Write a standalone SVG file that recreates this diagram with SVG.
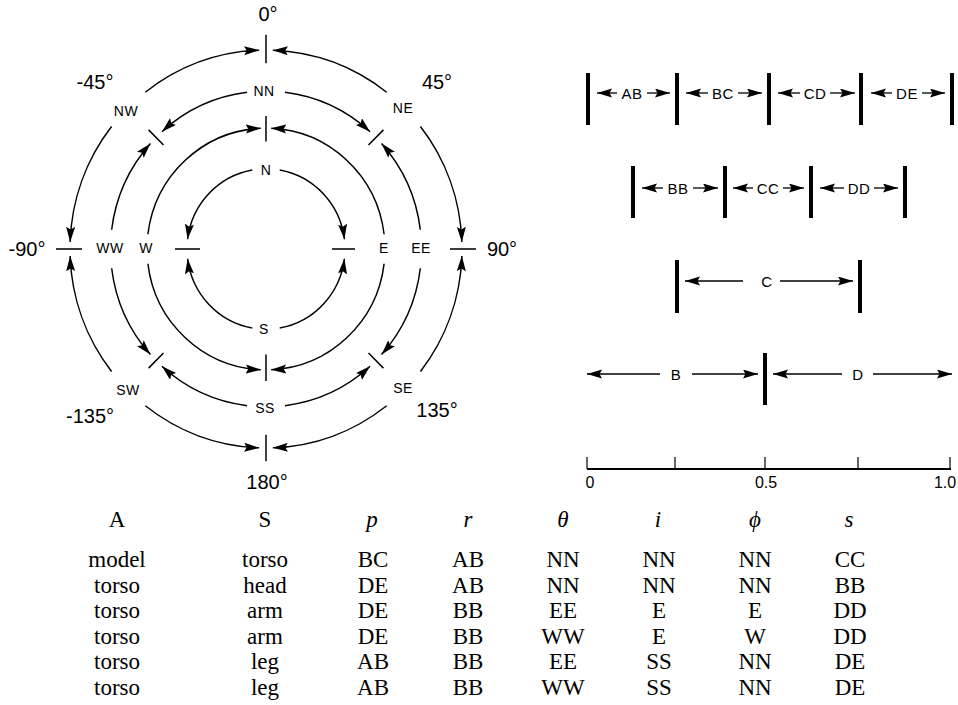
<svg xmlns="http://www.w3.org/2000/svg" width="958" height="705" viewBox="0 0 958 705">
<style>
  .bg{fill:#fff}
  .arc{fill:none;stroke:#000;stroke-width:1.5;marker-end:url(#ah)}
  .tk{stroke:#000;stroke-width:1.5;fill:none}
  .bar{stroke:#000;stroke-width:4;fill:none}
  .ar{stroke:#000;stroke-width:1.3;fill:none;marker-end:url(#ah)}
  .ax{stroke:#000;stroke-width:2;fill:none}
  .axt{stroke:#000;stroke-width:1.2;fill:none}
  .rl{font-family:"Liberation Sans",Arial,sans-serif;font-size:14px;fill:#000;text-anchor:middle;letter-spacing:0.5px}
  .dl{font-family:"Liberation Sans",Arial,sans-serif;font-size:20px;fill:#000;text-anchor:middle}
  .bl{font-family:"Liberation Sans",Arial,sans-serif;font-size:15px;fill:#000;text-anchor:middle;letter-spacing:0.5px}
  .al{font-family:"Liberation Sans",Arial,sans-serif;font-size:16px;fill:#000;text-anchor:middle}
  .tb{font-family:"Liberation Serif","DejaVu Serif",serif;font-size:23px;fill:#000;text-anchor:middle}
  .ti{font-style:italic}
</style>
<defs>
  <marker id="ah" markerUnits="userSpaceOnUse" markerWidth="16" markerHeight="10" refX="15" refY="4.5" orient="auto">
    <path d="M0,0 L15,4.5 L0,9 L2.5,4.5 z" fill="#000"/>
  </marker>
</defs>
<rect class="bg" x="0" y="0" width="958" height="705"/>

<!-- connectors of the circular diagram -->
<g id="connectors" transform="translate(266 249) scale(1 1.015)">
  <path class="arc" d="M-120.67,-154.45 A196,196 0 0 1 -6.84,-195.88"/>
  <path class="arc" d="M120.67,-154.45 A196,196 0 0 0 6.84,-195.88"/>
  <path class="arc" d="M154.45,-120.67 A196,196 0 0 1 195.88,-6.84"/>
  <path class="arc" d="M154.45,120.67 A196,196 0 0 0 195.88,6.84"/>
  <path class="arc" d="M120.67,154.45 A196,196 0 0 1 6.84,195.88"/>
  <path class="arc" d="M-120.67,154.45 A196,196 0 0 0 -6.84,195.88"/>
  <path class="arc" d="M-154.45,120.67 A196,196 0 0 1 -195.88,6.84"/>
  <path class="arc" d="M-154.45,-120.67 A196,196 0 0 0 -195.88,-6.84"/>

  <path class="arc" d="M18.95,-154.34 A155.5,155.5 0 0 1 104.05,-115.56"/>
  <path class="arc" d="M-18.95,-154.34 A155.5,155.5 0 0 0 -104.05,-115.56"/>
  <path class="arc" d="M154.34,-18.95 A155.5,155.5 0 0 0 115.56,-104.05"/>
  <path class="arc" d="M154.34,18.95 A155.5,155.5 0 0 1 115.56,104.05"/>
  <path class="arc" d="M18.95,154.34 A155.5,155.5 0 0 0 104.05,115.56"/>
  <path class="arc" d="M-18.95,154.34 A155.5,155.5 0 0 1 -104.05,115.56"/>
  <path class="arc" d="M-154.34,18.95 A155.5,155.5 0 0 0 -115.56,104.05"/>
  <path class="arc" d="M-154.34,-18.95 A155.5,155.5 0 0 1 -115.56,-104.05"/>

  <path class="arc" d="M-118.11,-14.51 A119,119 0 0 1 -5.19,-118.89"/>
  <path class="arc" d="M118.11,-14.51 A119,119 0 0 0 5.19,-118.89"/>
  <path class="arc" d="M118.11,14.51 A119,119 0 0 1 5.19,118.89"/>
  <path class="arc" d="M-118.11,14.51 A119,119 0 0 0 -5.19,118.89"/>

  <path class="arc" d="M-13.72,-77.80 A79,79 0 0 0 -78.41,-9.63"/>
  <path class="arc" d="M13.72,-77.80 A79,79 0 0 1 78.41,-9.63"/>
  <path class="arc" d="M13.72,77.80 A79,79 0 0 0 78.41,9.63"/>
  <path class="arc" d="M-13.72,77.80 A79,79 0 0 1 -78.41,9.63"/>
</g>

<!-- tick nodes -->
<g transform="translate(266 249) scale(1 1.015)">
  <g id="tick-0"><line class="tk" x1="0" y1="-183" x2="0" y2="-211"/></g>
  <g id="tick-90"><line class="tk" x1="184" y1="0" x2="210" y2="0"/></g>
  <g id="tick-180"><line class="tk" x1="0" y1="183" x2="0" y2="209"/></g>
  <g id="tick-m90"><line class="tk" x1="-184" y1="0" x2="-210" y2="0"/></g>
  <g id="tick-ne"><line class="tk" x1="102.5" y1="-102.5" x2="117.4" y2="-117.4"/></g>
  <g id="tick-se"><line class="tk" x1="102.5" y1="102.5" x2="117.4" y2="117.4"/></g>
  <g id="tick-sw"><line class="tk" x1="-102.5" y1="102.5" x2="-117.4" y2="117.4"/></g>
  <g id="tick-nw"><line class="tk" x1="-102.5" y1="-102.5" x2="-117.4" y2="-117.4"/></g>
  <g id="tick-n3"><line class="tk" x1="0" y1="-106" x2="0" y2="-131"/></g>
  <g id="tick-s3"><line class="tk" x1="0" y1="104" x2="0" y2="130"/></g>
  <g id="tick-w4"><line class="tk" x1="-66" y1="0" x2="-91" y2="0"/></g>
  <g id="tick-e4"><line class="tk" x1="66" y1="0" x2="89" y2="0"/></g>
</g>

<!-- ring label nodes -->
<g id="node-NW"><text class="rl" x="126" y="116">NW</text></g>
<g id="node-NE"><text class="rl" x="403" y="113">NE</text></g>
<g id="node-SW"><text class="rl" x="128" y="395">SW</text></g>
<g id="node-SE"><text class="rl" x="403" y="393">SE</text></g>
<g id="node-NN"><text class="rl" x="264" y="96">NN</text></g>
<g id="node-SS"><text class="rl" x="265" y="413">SS</text></g>
<g id="node-WW"><text class="rl" x="110" y="253">WW</text></g>
<g id="node-EE"><text class="rl" x="421" y="253">EE</text></g>
<g id="node-W"><text class="rl" x="146" y="253">W</text></g>
<g id="node-E"><text class="rl" x="384" y="253">E</text></g>
<g id="node-N"><text class="rl" x="266" y="175">N</text></g>
<g id="node-S"><text class="rl" x="264" y="334">S</text></g>

<!-- degree labels -->
<g id="deg-0"><text class="dl" x="268" y="21">0°</text></g>
<g id="deg-m45"><text class="dl" x="95" y="89">-45°</text></g>
<g id="deg-45"><text class="dl" x="437" y="89">45°</text></g>
<g id="deg-m90"><text class="dl" x="27" y="256">-90°</text></g>
<g id="deg-90"><text class="dl" x="502" y="256">90°</text></g>
<g id="deg-m135"><text class="dl" x="90" y="423">-135°</text></g>
<g id="deg-135"><text class="dl" x="437" y="417">135°</text></g>
<g id="deg-180"><text class="dl" x="267" y="489">180°</text></g>

<!-- interval bars -->
<g id="row1">
  <line class="bar" x1="588" y1="73" x2="588" y2="125"/>
  <line class="bar" x1="677" y1="73" x2="677" y2="125"/>
  <line class="bar" x1="769" y1="73" x2="769" y2="125"/>
  <line class="bar" x1="861" y1="73" x2="861" y2="125"/>
  <line class="bar" x1="952" y1="73" x2="952" y2="125"/>
  <text class="bl" x="632" y="98.5">AB</text>
  <text class="bl" x="723" y="98.5">BC</text>
  <text class="bl" x="815" y="98.5">CD</text>
  <text class="bl" x="907" y="98.5">DE</text>
</g>
<g id="row2">
  <line class="bar" x1="633" y1="166" x2="633" y2="218"/>
  <line class="bar" x1="725" y1="166" x2="725" y2="218"/>
  <line class="bar" x1="811" y1="166" x2="811" y2="218"/>
  <line class="bar" x1="905" y1="166" x2="905" y2="218"/>
  <text class="bl" x="678" y="193.5">BB</text>
  <text class="bl" x="768" y="193.5">CC</text>
  <text class="bl" x="859" y="193.5">DD</text>
</g>
<g id="row3">
  <line class="bar" x1="677" y1="260" x2="677" y2="313"/>
  <line class="bar" x1="860" y1="260" x2="860" y2="313"/>
  <text class="bl" x="767" y="286.5">C</text>
</g>
<g id="row4">
  <line class="bar" x1="765" y1="353" x2="765" y2="405"/>
  <text class="bl" x="676" y="379.5">B</text>
  <text class="bl" x="858" y="379.5">D</text>
</g>
<g id="bar-arrows">
  <line class="ar" x1="617" y1="93" x2="597" y2="93"/>
  <line class="ar" x1="647" y1="93" x2="670" y2="93"/>
  <line class="ar" x1="708" y1="93" x2="686" y2="93"/>
  <line class="ar" x1="738" y1="93" x2="762" y2="93"/>
  <line class="ar" x1="800" y1="93" x2="778" y2="93"/>
  <line class="ar" x1="830" y1="93" x2="855" y2="93"/>
  <line class="ar" x1="892" y1="93" x2="871" y2="93"/>
  <line class="ar" x1="922" y1="93" x2="945" y2="93"/>

  <line class="ar" x1="663" y1="188" x2="642" y2="188"/>
  <line class="ar" x1="693" y1="188" x2="718" y2="188"/>
  <line class="ar" x1="753" y1="188" x2="733" y2="188"/>
  <line class="ar" x1="783" y1="188" x2="804" y2="188"/>
  <line class="ar" x1="844" y1="188" x2="820" y2="188"/>
  <line class="ar" x1="874" y1="188" x2="898" y2="188"/>

  <line class="ar" x1="743" y1="281" x2="685" y2="281"/>
  <line class="ar" x1="780" y1="281" x2="853" y2="281"/>

  <line class="ar" x1="660" y1="374" x2="587" y2="374"/>
  <line class="ar" x1="692" y1="374" x2="758" y2="374"/>
  <line class="ar" x1="842" y1="374" x2="773" y2="374"/>
  <line class="ar" x1="873" y1="374" x2="952" y2="374"/>
</g>

<!-- scale axis -->
<g id="axis">
  <line class="ax" x1="587" y1="469" x2="951" y2="469"/>
  <line class="axt" x1="587" y1="457" x2="587" y2="469"/>
  <line class="axt" x1="675" y1="457" x2="675" y2="469"/>
  <line class="axt" x1="765" y1="457" x2="765" y2="469"/>
  <line class="axt" x1="858" y1="457" x2="858" y2="469"/>
  <line class="axt" x1="950" y1="457" x2="950" y2="469"/>
  <text class="al" x="590" y="488">0</text>
  <text class="al" x="766" y="488">0.5</text>
  <text class="al" x="945" y="488">1.0</text>
</g>

<!-- table -->
<g id="table">
  <g id="table-header">
    <text class="tb" x="117" y="527">A</text>
    <text class="tb" x="265" y="527">S</text>
    <text class="tb ti" x="372" y="527">p</text>
    <text class="tb ti" x="468" y="527">r</text>
    <text class="tb ti" x="563" y="527">θ</text>
    <text class="tb ti" x="658" y="527">i</text>
    <text class="tb ti" x="755" y="527">ϕ</text>
    <text class="tb ti" x="849" y="527">s</text>
  </g>
  <g id="table-row1">
    <text class="tb" x="117" y="567">model</text><text class="tb" x="265" y="567">torso</text>
    <text class="tb" x="373" y="567">BC</text><text class="tb" x="468" y="567">AB</text>
    <text class="tb" x="563" y="567">NN</text><text class="tb" x="659" y="567">NN</text>
    <text class="tb" x="755" y="567">NN</text><text class="tb" x="850" y="567">CC</text>
  </g>
  <g id="table-row2">
    <text class="tb" x="117" y="592.5">torso</text><text class="tb" x="265" y="592.5">head</text>
    <text class="tb" x="373" y="592.5">DE</text><text class="tb" x="468" y="592.5">AB</text>
    <text class="tb" x="563" y="592.5">NN</text><text class="tb" x="659" y="592.5">NN</text>
    <text class="tb" x="755" y="592.5">NN</text><text class="tb" x="850" y="592.5">BB</text>
  </g>
  <g id="table-row3">
    <text class="tb" x="117" y="618">torso</text><text class="tb" x="265" y="618">arm</text>
    <text class="tb" x="373" y="618">DE</text><text class="tb" x="468" y="618">BB</text>
    <text class="tb" x="563" y="618">EE</text><text class="tb" x="659" y="618">E</text>
    <text class="tb" x="755" y="618">E</text><text class="tb" x="850" y="618">DD</text>
  </g>
  <g id="table-row4">
    <text class="tb" x="117" y="643.5">torso</text><text class="tb" x="265" y="643.5">arm</text>
    <text class="tb" x="373" y="643.5">DE</text><text class="tb" x="468" y="643.5">BB</text>
    <text class="tb" x="563" y="643.5">WW</text><text class="tb" x="659" y="643.5">E</text>
    <text class="tb" x="755" y="643.5">W</text><text class="tb" x="850" y="643.5">DD</text>
  </g>
  <g id="table-row5">
    <text class="tb" x="117" y="669">torso</text><text class="tb" x="265" y="669">leg</text>
    <text class="tb" x="373" y="669">AB</text><text class="tb" x="468" y="669">BB</text>
    <text class="tb" x="563" y="669">EE</text><text class="tb" x="659" y="669">SS</text>
    <text class="tb" x="755" y="669">NN</text><text class="tb" x="850" y="669">DE</text>
  </g>
  <g id="table-row6">
    <text class="tb" x="117" y="694.5">torso</text><text class="tb" x="265" y="694.5">leg</text>
    <text class="tb" x="373" y="694.5">AB</text><text class="tb" x="468" y="694.5">BB</text>
    <text class="tb" x="563" y="694.5">WW</text><text class="tb" x="659" y="694.5">SS</text>
    <text class="tb" x="755" y="694.5">NN</text><text class="tb" x="850" y="694.5">DE</text>
  </g>
</g>
</svg>
